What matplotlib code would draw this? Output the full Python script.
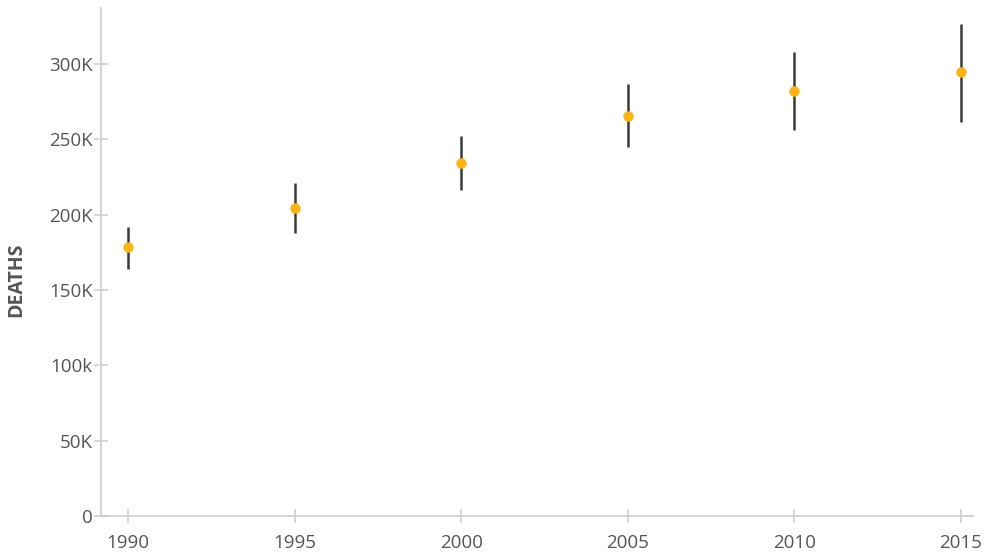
import matplotlib
matplotlib.use("Agg")
import matplotlib.pyplot as plt

years = [1990, 1995, 2000, 2005, 2010, 2015]
deaths = [178.5, 204.4, 234.3, 265.5, 282.1, 294.7]
upper = [191.8, 221.0, 252.2, 286.7, 308.0, 326.5]
lower = [163.9, 187.8, 216.4, 244.9, 256.2, 261.5]
ytick_vals = [0, 50, 100, 150, 200, 250, 300]
ytick_labels = ["0", "50K", "100k", "150K", "200K", "250K", "300K"]

plt.rcParams['font.family'] = ['Open Sans', 'DejaVu Sans']

fig = plt.figure(figsize=(9.84, 5.57), dpi=100)
ax = fig.add_axes([101/984, 41/557, 872/984, 508/557])

ax.vlines(years, lower, upper, color="#3a3a3a", linewidth=1.8, zorder=2)
ax.plot(years, deaths, "o", color="#FFB310", markersize=7.5, markeredgewidth=0, zorder=3)

ax.set_xlim(1989.19, 2015.36)
ax.set_ylim(0, 337)
ax.set_xticks(years)
ax.set_xticklabels([str(y) for y in years])
ax.set_yticks(ytick_vals)
ax.set_yticklabels(ytick_labels)

for s in ["top", "right"]:
    ax.spines[s].set_visible(False)
for s in ["left", "bottom"]:
    ax.spines[s].set_color("#cccccc")
    ax.spines[s].set_linewidth(1.2)

ax.tick_params(axis="both", direction="inout", length=10, width=1.1, color="#cccccc",
               labelcolor="#555555", labelsize=13.5)
ax.tick_params(axis="y", pad=1)
ax.tick_params(axis="x", pad=8)

ax.set_ylabel("DEATHS", fontsize=14, fontweight="bold", color="#555555")
ax.yaxis.set_label_coords(-0.0855, 0.4656)

fig.savefig("out.png", dpi=100)
